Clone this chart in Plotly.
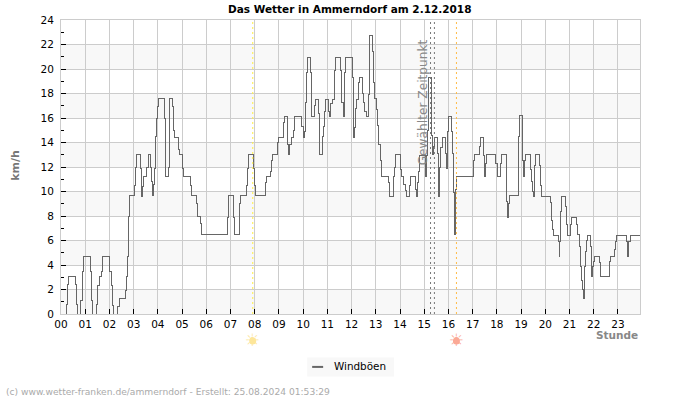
import plotly.graph_objects as go

title = "Das Wetter in Ammerndorf am 2.12.2018"
footer = "(c) www.wetter-franken.de/ammerndorf - Erstellt: 25.08.2024 01:53:29"
series_name = "Windböen"
hour_labels = [f"{h:02d}" for h in range(24)]
hour_ticks = list(range(24))
speed_ticks = list(range(0, 25, 2))
bands = [(0, 2), (4, 6), (8, 10), (12, 14), (16, 18), (20, 22)]
sunrise = 7.918
sunset = 16.33
selected = [15.26, 15.42]

gust_hours = [
    0.00, 0.23, 0.27, 0.32, 0.60, 0.63, 0.67, 0.82, 0.87, 0.91, 1.23, 1.27, 1.32, 1.48, 1.52, 1.58,
    1.66, 1.72, 2.02, 2.07, 2.12, 2.17, 2.35, 2.42, 2.67, 2.72, 2.75, 2.80, 2.84, 3.02, 3.06, 3.10,
    3.29, 3.33, 3.38, 3.42, 3.53, 3.60, 3.70, 3.73, 3.76, 3.80, 3.86, 3.90, 3.94, 3.98, 4.02, 4.28,
    4.30, 4.32, 4.43, 4.46, 4.50, 4.61, 4.64, 4.67, 4.85, 4.87, 4.90, 5.02, 5.07, 5.35, 5.40, 5.60,
    5.64, 5.75, 5.82, 6.87, 6.91, 6.93, 7.12, 7.17, 7.36, 7.39, 7.43, 7.68, 7.72, 7.76, 7.94, 7.98,
    8.02, 8.43, 8.49, 8.66, 8.69, 8.74, 8.94, 8.98, 9.19, 9.23, 9.34, 9.37, 9.41, 9.45, 9.52, 9.60,
    9.64, 9.95, 10.01, 10.06, 10.11, 10.15, 10.19, 10.29, 10.33, 10.36, 10.47, 10.51, 10.63, 10.66, 10.69, 10.80,
    10.83, 10.87, 10.92, 11.04, 11.09, 11.14, 11.22, 11.31, 11.35, 11.54, 11.57, 11.60, 11.66, 11.71, 11.76, 12.03,
    12.06, 12.09, 12.12, 12.16, 12.20, 12.28, 12.32, 12.45, 12.50, 12.55, 12.60, 12.70, 12.74, 12.75, 12.85, 12.90,
    12.93, 13.02, 13.09, 13.13, 13.19, 13.23, 13.52, 13.56, 13.74, 13.77, 13.81, 14.03, 14.07, 14.14, 14.22, 14.27,
    14.38, 14.43, 14.63, 14.67, 14.71, 14.76, 14.80, 15.07, 15.10, 15.14, 15.18, 15.28, 15.31, 15.33, 15.37, 15.42,
    15.54, 15.58, 15.60, 15.64, 15.69, 15.75, 15.87, 15.91, 15.94, 15.98, 16.00, 16.12, 16.16, 16.20, 16.23, 16.25,
    16.28, 16.30, 16.34, 17.04, 17.08, 17.29, 17.33, 17.44, 17.49, 17.53, 17.57, 17.95, 18.01, 18.14, 18.18, 18.38,
    18.41, 18.44, 18.48, 18.52, 18.88, 18.91, 18.92, 19.04, 19.07, 19.10, 19.14, 19.18, 19.38, 19.43, 19.47, 19.50,
    19.54, 19.56, 19.58, 19.77, 19.81, 19.84, 20.20, 20.25, 20.29, 20.34, 20.53, 20.57, 20.60, 20.62, 20.67, 20.85,
    20.89, 20.93, 21.02, 21.08, 21.27, 21.32, 21.42, 21.46, 21.50, 21.53, 21.56, 21.60, 21.63, 21.67, 21.70, 21.74,
    21.85, 21.89, 21.92, 21.95, 21.98, 22.03, 22.22, 22.27, 22.63, 22.67, 22.71, 22.86, 22.91, 22.95, 23.36, 23.41,
    23.45, 23.50, 23.91,
]
gust_speeds = [
    0.0, 0.8, 2.4, 3.1, 2.4, 0.8, 0.0, 1.1, 3.5, 4.7, 3.5, 1.1, 0.0, 0.8, 2.3, 3.1,
    3.5, 4.7, 3.5, 2.3, 0.7, 0.0, 0.6, 1.3, 1.9, 3.1, 4.7, 8.0, 9.7, 10.5, 12.0, 13.0,
    11.9, 9.6, 10.4, 11.2, 12.0, 13.0, 12.0, 10.8, 9.7, 10.6, 11.9, 14.5, 16.0, 16.9, 17.6, 16.0,
    11.9, 11.2, 12.0, 16.0, 17.6, 16.9, 15.0, 14.4, 14.0, 13.4, 13.0, 11.9, 11.2, 10.5, 9.7, 9.0,
    8.0, 7.4, 6.5, 7.9, 9.0, 9.7, 7.9, 6.5, 7.9, 9.0, 9.7, 10.5, 11.9, 13.0, 11.9, 10.5,
    9.7, 10.7, 11.2, 11.6, 12.5, 13.0, 14.0, 14.4, 15.6, 16.1, 15.3, 13.8, 13.0, 13.8, 14.4, 15.0,
    16.1, 15.3, 14.4, 14.9, 17.3, 19.7, 20.9, 19.7, 17.3, 16.1, 17.0, 17.5, 16.4, 14.1, 13.0, 14.5,
    15.3, 16.5, 17.5, 16.5, 16.1, 17.2, 17.5, 19.9, 20.9, 19.9, 18.4, 17.3, 16.1, 19.7, 20.9, 19.3,
    16.0, 14.4, 15.2, 16.8, 17.5, 18.9, 19.3, 18.0, 17.3, 16.5, 16.1, 17.9, 21.2, 22.7, 21.4, 18.9,
    17.6, 16.7, 15.4, 13.8, 12.5, 11.2, 10.7, 9.6, 11.2, 12.0, 13.0, 11.8, 11.2, 10.6, 10.1, 9.6,
    10.5, 11.2, 10.2, 9.6, 10.7, 11.6, 12.9, 11.2, 12.9, 15.0, 19.3, 17.6, 14.6, 13.0, 13.7, 14.4,
    13.1, 10.6, 9.6, 12.0, 13.6, 14.4, 13.1, 11.9, 13.1, 14.9, 16.1, 14.9, 13.1, 9.9, 8.4, 6.5,
    7.7, 10.2, 11.2, 12.5, 13.0, 13.7, 14.4, 12.9, 11.2, 12.3, 13.0, 12.3, 11.2, 12.3, 13.0, 11.8,
    9.2, 7.9, 9.0, 9.7, 11.8, 14.5, 16.2, 14.9, 12.5, 11.2, 12.5, 13.0, 11.8, 10.8, 10.0, 9.6,
    11.4, 12.1, 13.0, 12.1, 10.5, 9.6, 9.1, 7.6, 6.9, 6.4, 5.9, 4.7, 5.9, 8.4, 9.6, 8.8,
    7.3, 6.4, 7.3, 7.9, 7.3, 6.5, 5.5, 3.9, 2.7, 2.0, 1.3, 2.3, 3.9, 5.1, 6.0, 6.4,
    5.5, 3.9, 3.1, 3.9, 4.3, 4.7, 4.2, 3.1, 3.6, 4.3, 4.7, 5.3, 5.9, 6.4, 5.9, 4.7,
    5.9, 6.4, 6.4,
]

GRID = "#cccccc"
LINE = "#666666"
FONT = "DejaVu Sans"
PL, PW, PT, PB = 60.5, 579.8, 20.0, 314.5


def px(x):
    return (x - PL) / PW


def py(y):
    return (PB - y) / (PB - PT)


fig = go.Figure()
fig.add_trace(go.Scatter(
    x=gust_hours, y=gust_speeds, mode="lines", name=series_name, showlegend=False,
    line=dict(color=LINE, width=1, shape="hv"),
))

shapes = [
    dict(type="rect", xref="paper", x0=0, x1=1, yref="y", y0=a, y1=b,
         fillcolor="#f8f8f8", line_width=0, layer="below")
    for a, b in bands
]
for h, c in [(sunrise, "#ffee44"), (sunset, "#ffbb44"), (selected[0], "#777777"), (selected[1], "#777777")]:
    shapes.append(dict(type="line", x0=h, x1=h, yref="paper", y0=0, y1=1,
                       line=dict(color=c, width=1, dash="2px,3px"), layer="above"))
shapes.append(dict(type="rect", xref="paper", yref="paper", x0=px(307), x1=px(394), y0=py(377), y1=py(358),
                   fillcolor="#f8f8f8", line_width=0, layer="above"))
shapes.append(dict(type="line", xref="paper", yref="paper", x0=px(312), x1=px(323), y0=py(367.5), y1=py(367.5),
                   line=dict(color=LINE, width=2), layer="above"))
for h, c in [(sunrise, "#fde69a"), (sunset, "#fba995")]:
    shapes.append(dict(type="circle", xref="x", xsizemode="pixel", xanchor=h, x0=-3.5, x1=3.5,
                       yref="paper", ysizemode="pixel", yanchor=py(341.5), y0=-3.5, y1=3.5,
                       fillcolor=c, line_width=0, layer="above"))


def note(text, x, y, size, color, xanchor="center", angle=0, **kw):
    return dict(text=text, xref="paper", yref="paper", x=px(x), y=py(y), xanchor=xanchor, yanchor="middle",
                textangle=angle, showarrow=False, font=dict(family=FONT, size=size, color=color), **kw)


annotations = [
    note("<b>" + title + "</b>", 349.5, 8.5, 10.5, "#000000"),
    note("<b>km/h</b>", 15.5, 166, 11, "#777777", angle=-90),
    note("<b>Stunde</b>", 640.5, 335.5, 10.5, "#888888", xanchor="right"),
    note(footer, 3, 393, 9.15, "#aaaaaa", xanchor="left"),
    note("Gewählter Zeitpunkt", 423, 102.5, 12.2, "#888888", angle=-90),
    note(series_name, 332, 366.5, 10.4, "#000000", xanchor="left"),
    dict(text="☀", x=sunrise, yref="paper", y=py(341), xanchor="center", yanchor="middle",
         showarrow=False, font=dict(family=FONT, size=17, color="#fde69a")),
    dict(text="☀", x=sunset, yref="paper", y=py(341), xanchor="center", yanchor="middle",
         showarrow=False, font=dict(family=FONT, size=17, color="#fba995")),
]

fig.update_layout(
    width=700, height=400, autosize=False,
    margin=dict(l=PL, r=700 - PL - PW, t=PT, b=400 - PB, pad=0),
    paper_bgcolor="#ffffff", plot_bgcolor="#ffffff",
    font=dict(family=FONT, size=10, color="#000000"),
    shapes=shapes, annotations=annotations,
    showlegend=False,
    xaxis=dict(range=[0, 23.91], tickvals=hour_ticks, ticktext=hour_labels, showgrid=True,
               gridcolor=GRID, gridwidth=1, ticks="inside", ticklen=5, tickcolor="#000000",
               showline=True, linecolor=GRID, mirror=True, zeroline=False, tickangle=0,
               tickfont=dict(size=10.5)),
    yaxis=dict(range=[0, 24], tickvals=speed_ticks, showgrid=True, gridcolor=GRID, gridwidth=1,
               ticks="inside", ticklen=5, tickcolor="#000000", showline=True, linecolor=GRID,
               mirror=True, zeroline=False, ticklabelstandoff=4, tickfont=dict(size=10.5),
               minor=dict(dtick=1, ticks="inside", ticklen=3, tickcolor="#000000", showgrid=False)),
)

fig.write_html(
    "out.html",
    config={"displayModeBar": False},
    post_script="document.body.style.margin='0';"
                "document.querySelectorAll('.scatterlayer path').forEach(function(p){p.style.shapeRendering='crispEdges';});",
)
